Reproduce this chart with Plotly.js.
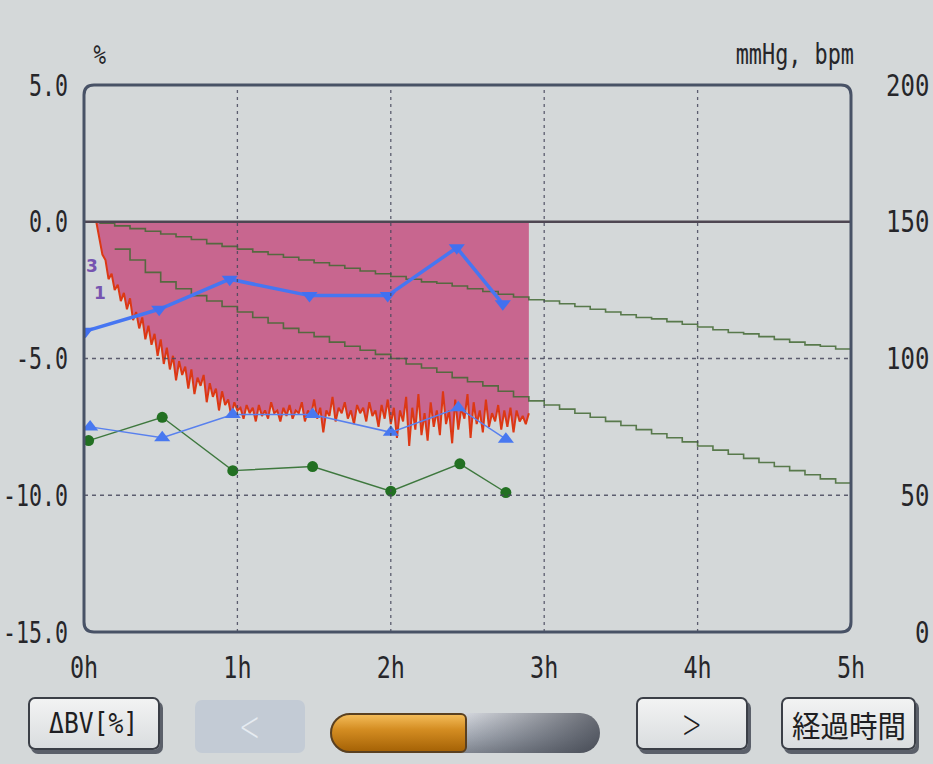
<!DOCTYPE html>
<html>
<head>
<meta charset="utf-8">
<script src="https://cdn.plot.ly/plotly-3.0.1.min.js"></script>
<style>
  body { margin: 0; background: #d4d8d9; }
  #wrap { position: relative; width: 933px; height: 764px; overflow: hidden; background: #d4d8d9; }
  #chart { position: absolute; left: 0; top: 0; width: 933px; height: 764px; }
  .btn { position: absolute; box-sizing: border-box; border: 2px solid #3b3f47; border-radius: 7px;
         background: linear-gradient(#f2f3f3, #dadddf); box-shadow: 3px 4px 0 #5b606a;
         display: flex; align-items: center; justify-content: center;
         font-family: 'DejaVu Sans Mono', monospace; color: #1e1e22; }
  .btn span { display: inline-block; }
  #b1 { left: 28px; top: 697px; width: 132px; height: 53px; font-size: 28px; }
  #b1 span { transform: scaleX(0.88); }
  #b2 { left: 195px; top: 700px; width: 110px; height: 53px; background: #c3cbd5; border: none;
        box-shadow: none; color: #e6ebf1; font-family: 'DejaVu Sans', sans-serif; font-size: 42px; font-weight: 200; }
  #b2 span { transform: scaleX(0.6); }
  #slider { position: absolute; left: 330px; top: 713px; width: 270px; height: 40px; border-radius: 20px;
            background: linear-gradient(to right, rgba(0,0,0,0) 45%, rgba(40,44,54,0.65) 100%),
                        linear-gradient(#dfe2e8, #aab0ba 60%, #858b95); }
  #fill { position: absolute; left: 330px; top: 713px; width: 137px; height: 40px; box-sizing: border-box;
          border: 2px solid #5a4020; border-radius: 20px 6px 6px 20px;
          background: linear-gradient(#f3bb58 0%, #d48d22 40%, #a66306 100%); }
  #b4 { left: 636px; top: 697px; width: 112px; height: 53px; font-family: 'DejaVu Sans', sans-serif; font-size: 40px; font-weight: 200; }
  #b4 span { transform: scaleX(0.6); }
  #b5 { left: 781px; top: 697px; width: 135px; height: 53px; font-family: 'Noto Sans CJK JP', sans-serif; font-size: 30px; }
  #b5 span { transform: scaleX(0.95); }
</style>
</head>
<body>
<div id="wrap">
  <div id="chart"></div>
  <div class="btn" id="b1"><span>ΔBV[%]</span></div>
  <div class="btn" id="b2"><span>&lt;</span></div>
  <div id="slider"></div>
  <div id="fill"></div>
  <div class="btn" id="b4"><span>&gt;</span></div>
  <div class="btn" id="b5"><span>経過時間</span></div>
</div>
<script>
// ---- axis ticks ----
const hourTicks = [0, 1, 2, 3, 4, 5];
const hourLabels = ['0h', '1h', '2h', '3h', '4h', '5h'];
const bvTicks = [5, 0, -5, -10, -15];
const bvTickText = ['5.0', '0.0', '-5.0', '-10.0', '-15.0'];
const bpTicks = [200, 150, 100, 50, 0];
const bpTickText = ['200', '150', '100', '\u00a050', '\u00a0\u00a00'];

// ---- ΔBV (%) measured trace, starts at 0.08 h, one sample every 0.02 h ----
const dbvStart = 0.08, dbvStep = 0.02;
const dbv = [
  0, -0.6, -1.2, -1.4, -2.1, -1.9, -2.5, -2.3, -2.9, -2.6,
  -3.2, -2.8, -3.6, -3.3, -3.9, -3.5, -4.3, -3.8, -4.5, -4.1,
  -4.9, -4.3, -5.2, -4.6, -5.4, -4.9, -5.8, -5.1, -5.6, -5.3,
  -6.1, -5.4, -6.3, -5.7, -6.0, -5.6, -6.6, -5.9, -6.4, -6.1,
  -6.9, -6.2, -6.7, -6.5, -7.1, -6.6, -6.9, -6.8, -7.2, -6.7,
  -7.0, -6.8, -7.3, -6.7, -7.1, -6.9, -7.2, -6.6, -7.0, -6.9,
  -7.3, -6.8, -7.1, -6.7, -7.2, -6.9, -7.0, -6.6, -7.3, -6.9,
  -7.1, -6.5, -7.2, -6.8, -7.7, -6.9, -7.1, -6.4, -7.3, -6.8,
  -7.0, -6.6, -7.2, -6.9, -7.4, -6.7, -7.0, -6.8, -7.3, -6.6,
  -7.1, -6.9, -7.5, -6.7, -7.2, -6.5, -7.4, -6.8, -7.9, -6.9,
  -7.3, -6.4, -8.2, -6.8, -7.6, -6.3, -7.8, -7.0, -8.0, -6.6,
  -7.5, -6.9, -7.8, -6.2, -7.4, -6.9, -8.1, -6.5, -7.6, -6.8,
  -7.2, -6.3, -7.9, -6.6, -7.4, -6.9, -7.7, -6.5, -7.5, -7.0,
  -7.3, -6.7, -7.6, -6.9, -7.5, -6.8, -7.7, -6.9, -7.3, -7.1,
  -7.4, -7.0
];

// ---- target ΔBV guide lines (stepped), one value every 0.1 h ----
const guide3Start = 0.1, guide1Start = 0.2, guideStep = 0.1;
const guide3 = [
  -0.05, -0.15, -0.25, -0.35, -0.45, -0.55, -0.65, -0.8, -0.9, -1.0,
  -1.1, -1.2, -1.3, -1.4, -1.5, -1.6, -1.7, -1.8, -1.9, -2.0,
  -2.1, -2.2, -2.25, -2.35, -2.45, -2.55, -2.65, -2.75, -2.85, -2.9,
  -3.0, -3.1, -3.2, -3.3, -3.4, -3.5, -3.55, -3.65, -3.75, -3.85,
  -3.95, -4.05, -4.1, -4.2, -4.3, -4.4, -4.5, -4.55, -4.65, -4.75
];
const guide1 = [
  -1.0, -1.4, -1.85, -2.2, -2.45, -2.7, -2.9, -3.1, -3.3,
  -3.5, -3.7, -3.9, -4.05, -4.2, -4.4, -4.55, -4.7, -4.85, -5.0,
  -5.2, -5.35, -5.5, -5.7, -5.85, -6.0, -6.2, -6.4, -6.55, -6.7,
  -6.85, -7.0, -7.15, -7.3, -7.45, -7.6, -7.75, -7.9, -8.05, -8.2,
  -8.35, -8.5, -8.65, -8.8, -8.95, -9.1, -9.25, -9.4, -9.55, -9.7
];

// ---- vital signs (mmHg, bpm) ----
const sysTimes = [0.01, 0.49, 0.95, 1.47, 1.98, 2.43, 2.73];
const sysBP = [110, 118, 129, 123, 123, 140.5, 120];
const diaTimes = [0.04, 0.51, 0.97, 1.49, 2.0, 2.44, 2.75];
const diaBP = [75, 71, 79.5, 79.5, 73, 82, 70.5];
const pulseTimes = [0.03, 0.51, 0.97, 1.49, 2.0, 2.45, 2.75];
const pulse = [70, 78.5, 59, 60.5, 51.5, 61.5, 51];

// ---- guide labels ----
const guideLabels = ['3', '1'];
const guideLabelX = [0.052, 0.104];
const guideLabelY = [-1.6, -2.6];

const monoFont = 'DejaVu Sans Mono, monospace';
const gridColor = 'rgba(70,72,92,0.85)';
const greenGuide = 'rgba(66,104,50,0.85)';

const traces = [
  { x0: dbvStart, dx: dbvStep, y: dbv, type: 'scatter', mode: 'lines', fill: 'tozeroy',
    fillcolor: 'rgb(200,102,143)', line: { color: 'rgb(220,56,20)', width: 2 }, name: 'ΔBV' },
  { x0: guide3Start, dx: guideStep, y: guide3, type: 'scatter', mode: 'lines',
    line: { color: greenGuide, width: 1.6, shape: 'hv' }, name: '3' },
  { x0: guide1Start, dx: guideStep, y: guide1, type: 'scatter', mode: 'lines',
    line: { color: greenGuide, width: 1.6, shape: 'hv' }, name: '1' },
  { x: pulseTimes, y: pulse, yaxis: 'y2', type: 'scatter', mode: 'lines+markers',
    line: { color: 'rgb(62,120,62)', width: 1.4 },
    marker: { symbol: 'circle', size: 11, color: 'rgb(34,112,34)' }, name: 'pulse' },
  { x: diaTimes, y: diaBP, yaxis: 'y2', type: 'scatter', mode: 'lines+markers',
    line: { color: 'rgb(88,128,238)', width: 1.5 },
    marker: { symbol: 'triangle-up', size: 14, color: 'rgb(72,120,240)' }, name: 'dia' },
  { x: sysTimes, y: sysBP, yaxis: 'y2', type: 'scatter', mode: 'lines+markers',
    line: { color: 'rgb(70,118,242)', width: 3.5 },
    marker: { symbol: 'triangle-down', size: 14, color: 'rgb(66,112,240)' }, name: 'sys' }
];

const shapes = [];
hourTicks.slice(1, 5).forEach(h => shapes.push({
  type: 'line', xref: 'x', yref: 'paper', x0: h, x1: h, y0: 0, y1: 1, layer: 'above',
  line: { color: gridColor, width: 1.3, dash: '3px,4px' } }));
[-5, -10].forEach(v => shapes.push({
  type: 'line', xref: 'paper', yref: 'y', x0: 0, x1: 1, y0: v, y1: v, layer: 'above',
  line: { color: gridColor, width: 1.3, dash: '4px,4px' } }));
shapes.push({ type: 'line', xref: 'paper', yref: 'y', x0: 0, x1: 1, y0: 0, y1: 0, layer: 'above',
  line: { color: 'rgb(78,70,82)', width: 2.6 } });
const rx = 10 / 767, ry = 10 / 547;
shapes.push({ type: 'path', xref: 'paper', yref: 'paper', layer: 'above',
  path: `M ${rx},0 L ${1 - rx},0 Q 1,0 1,${ry} L 1,${1 - ry} Q 1,1 ${1 - rx},1 L ${rx},1 Q 0,1 0,${1 - ry} L 0,${ry} Q 0,0 ${rx},0 Z`,
  line: { color: 'rgb(72,82,102)', width: 3 } });

const annotations = [
  { text: '%', xref: 'paper', yref: 'paper', x: 0.021, y: 1.055, xanchor: 'center', yanchor: 'middle',
    showarrow: false, font: { family: monoFont, size: 26, color: '#26262a' } },
  { text: 'mmHg, bpm', xref: 'paper', yref: 'paper', x: 0.927, y: 1.055, xanchor: 'center', yanchor: 'middle',
    showarrow: false, font: { family: monoFont, size: 28, color: '#26262a' } }
];
guideLabels.forEach((t, i) => annotations.push({
  text: '<b>' + t + '</b>', xref: 'x', yref: 'y', x: guideLabelX[i], y: guideLabelY[i], showarrow: false,
  font: { family: 'DejaVu Sans, sans-serif', size: 17, color: 'rgb(118,84,176)' } }));

const layout = {
  width: 933, height: 764,
  margin: { l: 84, r: 82, t: 85, b: 132 },
  paper_bgcolor: 'rgba(0,0,0,0)', plot_bgcolor: 'rgba(0,0,0,0)',
  showlegend: false, hovermode: false,
  xaxis: { range: [0, 5], tickvals: hourTicks, ticktext: hourLabels, showgrid: false, zeroline: false,
           showline: false, ticks: 'outside', ticklen: 9, tickcolor: 'rgba(0,0,0,0)',
           tickfont: { family: monoFont, size: 30, color: '#26262a' } },
  yaxis: { range: [-15, 5], tickvals: bvTicks, ticktext: bvTickText, showgrid: false, zeroline: false,
           showline: false, ticks: 'outside', ticklen: 9, tickcolor: 'rgba(0,0,0,0)',
           tickfont: { family: monoFont, size: 30, color: '#26262a' } },
  yaxis2: { range: [0, 200], tickvals: bpTicks, ticktext: bpTickText, overlaying: 'y', side: 'right',
            showgrid: false, zeroline: false, showline: false, ticks: 'outside', ticklen: 28,
            tickcolor: 'rgba(0,0,0,0)', tickfont: { family: monoFont, size: 30, color: '#26262a' } },
  shapes: shapes,
  annotations: annotations
};

function squeeze(selector, s) {
  document.querySelectorAll(selector).forEach(t => {
    const bb = t.getBBox();
    const anchor = t.getAttribute('text-anchor') || 'start';
    const cx = anchor === 'end' ? bb.x + bb.width : anchor === 'middle' ? bb.x + bb.width / 2 : bb.x;
    const orig = t.getAttribute('transform') || '';
    t.setAttribute('transform', orig + ` translate(${cx},0) scale(${s},1) translate(${-cx},0)`);
  });
}

Plotly.newPlot('chart', traces, layout, { displayModeBar: false, staticPlot: true }).then(() => {
  squeeze('#chart .xtick text', 0.78);
  squeeze('#chart .ytick text', 0.72);
  squeeze('#chart .y2tick text', 0.8);
  squeeze('#chart g.annotation[data-index="0"] text', 0.8);
  squeeze('#chart g.annotation[data-index="1"] text', 0.78);
});
</script>
</body>
</html>
